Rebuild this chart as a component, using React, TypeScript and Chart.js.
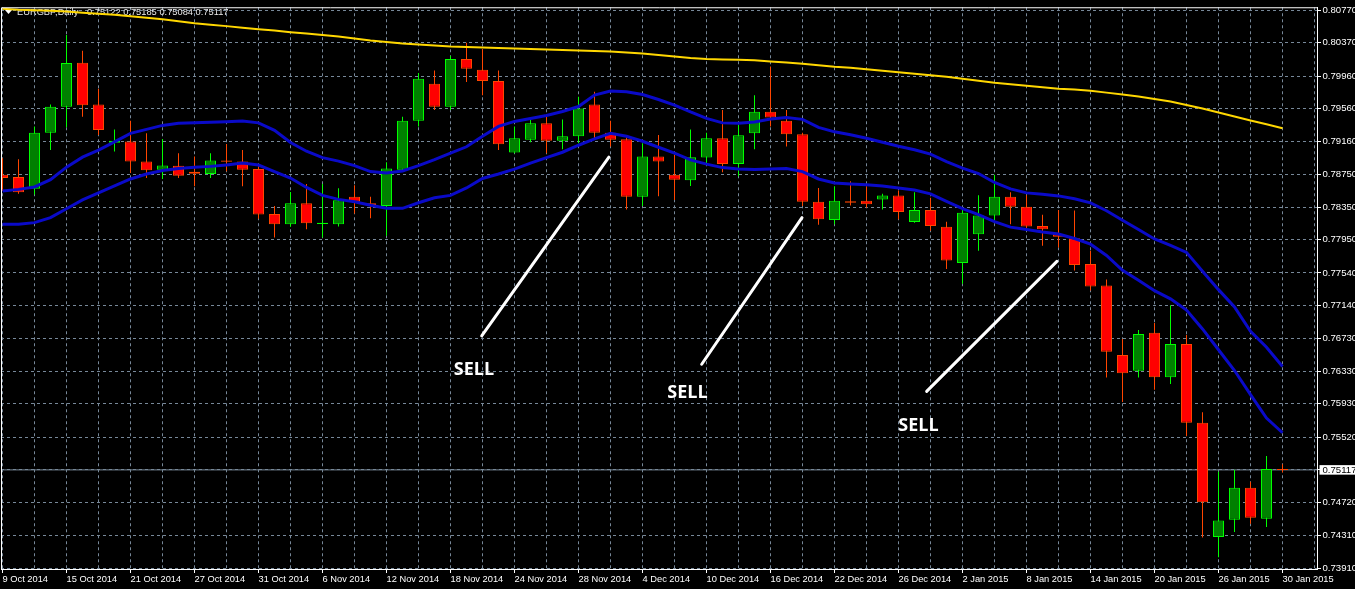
import React, { useEffect, useRef } from 'react';
import { Chart, registerables } from 'chart.js';

Chart.register(...registerables);

// ---- header text ----
const symbolName = 'EURGBP,Daily';
const lastQuote = ['0.75122', '0.75185', '0.75084', '0.75117'];

// ---- date axis (one label every 4 daily bars) ----
const dateTickBars = [0, 4, 8, 12, 16, 20, 24, 28, 32, 36, 40, 44, 48, 52, 56, 60, 64, 68, 72, 76, 80];
const dateLabels = [
  '9 Oct 2014', '15 Oct 2014', '21 Oct 2014', '27 Oct 2014', '31 Oct 2014', '6 Nov 2014',
  '12 Nov 2014', '18 Nov 2014', '24 Nov 2014', '28 Nov 2014', '4 Dec 2014', '10 Dec 2014',
  '16 Dec 2014', '22 Dec 2014', '26 Dec 2014', '2 Jan 2015', '8 Jan 2015', '14 Jan 2015',
  '20 Jan 2015', '26 Jan 2015', '30 Jan 2015',
];

// ---- price axis ----
const priceTicks = [
  0.8077, 0.8037, 0.7996, 0.7956, 0.7916, 0.7875, 0.7835, 0.7795, 0.7754,
  0.7714, 0.7673, 0.7633, 0.7593, 0.7552, 0.75117, 0.7472, 0.7431, 0.7391,
];
const bidPrice = 0.75117;

// ---- candles ----
const opens = [
  0.78747, 0.78719, 0.78576, 0.79265, 0.79583, 0.80124, 0.79611, 0.79140, 0.79155, 0.78911,
  0.78808, 0.78857, 0.78784, 0.78756, 0.78923, 0.78911, 0.78817, 0.78264, 0.78137, 0.78398,
  0.78140, 0.78137, 0.78475, 0.78398, 0.78362, 0.78808, 0.79412, 0.79867, 0.79583, 0.80172,
  0.80038, 0.79900, 0.79021, 0.79177, 0.79379, 0.79165, 0.79219, 0.79611, 0.79265, 0.79183,
  0.78475, 0.78972, 0.78747, 0.78679, 0.78960, 0.79195, 0.78878, 0.79256, 0.79522, 0.79412,
  0.79244, 0.78414, 0.78191, 0.78421, 0.78426, 0.78444, 0.78491, 0.78167, 0.78313, 0.78106,
  0.77661, 0.78015, 0.78247, 0.78475, 0.78353, 0.78118, 0.78015, 0.77967, 0.77649, 0.77385,
  0.76531, 0.76336, 0.76803, 0.76257, 0.76665, 0.75696, 0.74293, 0.74505, 0.74896, 0.74517,
  0.75122,
];
const highs = [
  0.78951, 0.78939, 0.79339, 0.79611, 0.80465, 0.80273, 0.79806, 0.79305, 0.79412, 0.79256,
  0.79186, 0.79012, 0.78972, 0.79012, 0.79125, 0.79052, 0.78850, 0.78362, 0.78536, 0.78634,
  0.78634, 0.78581, 0.78618, 0.78475, 0.78902, 0.79461, 0.79998, 0.80029, 0.80212, 0.80371,
  0.80294, 0.80029, 0.79339, 0.79428, 0.79492, 0.79428, 0.79705, 0.79767, 0.79412, 0.79208,
  0.79134, 0.79235, 0.78991, 0.79305, 0.79265, 0.79542, 0.79358, 0.79724, 0.80078, 0.79542,
  0.79265, 0.78585, 0.78606, 0.78667, 0.78606, 0.78512, 0.78552, 0.78532, 0.78463, 0.78170,
  0.78320, 0.78496, 0.78747, 0.78532, 0.78496, 0.78256, 0.78313, 0.78308, 0.77813, 0.77458,
  0.76726, 0.76836, 0.76925, 0.77141, 0.76775, 0.75827, 0.75094, 0.75118, 0.74972, 0.75289,
  0.75185,
];
const lows = [
  0.78548, 0.78512, 0.78503, 0.79052, 0.79330, 0.79461, 0.79235, 0.79033, 0.78768, 0.78707,
  0.78695, 0.78707, 0.78606, 0.78707, 0.78789, 0.78606, 0.78207, 0.77975, 0.78106, 0.78076,
  0.77975, 0.78109, 0.78271, 0.78213, 0.77996, 0.78801, 0.79339, 0.79542, 0.79542, 0.79888,
  0.79724, 0.79052, 0.79012, 0.79146, 0.79012, 0.79061, 0.79134, 0.79183, 0.79093, 0.78320,
  0.78362, 0.78484, 0.78435, 0.78610, 0.78869, 0.78777, 0.78728, 0.79061, 0.79339, 0.79093,
  0.78362, 0.78133, 0.78137, 0.78369, 0.78341, 0.78320, 0.78199, 0.78158, 0.78057, 0.77589,
  0.77405, 0.77813, 0.78191, 0.78137, 0.78076, 0.77873, 0.77853, 0.77569, 0.77324, 0.76254,
  0.75953, 0.76254, 0.76104, 0.76172, 0.75534, 0.74285, 0.74041, 0.74353, 0.74456, 0.74415,
  0.75084,
];
const closes = [
  0.78707, 0.78532, 0.79265, 0.79583, 0.80120, 0.79602, 0.79297, 0.79165, 0.78911, 0.78801,
  0.78862, 0.78735, 0.78759, 0.78923, 0.78906, 0.78808, 0.78259, 0.78137, 0.78398, 0.78149,
  0.78158, 0.78434, 0.78414, 0.78374, 0.78825, 0.79412, 0.79928, 0.79583, 0.80172, 0.80050,
  0.79900, 0.79122, 0.79195, 0.79379, 0.79165, 0.79219, 0.79562, 0.79265, 0.79177, 0.78475,
  0.78972, 0.78911, 0.78686, 0.78963, 0.79195, 0.78878, 0.79232, 0.79522, 0.79452, 0.79244,
  0.78414, 0.78199, 0.78426, 0.78402, 0.78383, 0.78491, 0.78289, 0.78313, 0.78118, 0.77691,
  0.78280, 0.78247, 0.78475, 0.78353, 0.78109, 0.78076, 0.77984, 0.77637, 0.77373, 0.76571,
  0.76307, 0.76787, 0.76257, 0.76665, 0.75696, 0.74719, 0.74493, 0.74896, 0.74529, 0.75127,
  0.75117,
];

// ---- indicators ----
const maLine = [
  0.80788, 0.80776, 0.80770, 0.80764, 0.80754, 0.80739, 0.80727, 0.80715, 0.80697, 0.80678,
  0.80660, 0.80636, 0.80611, 0.80593, 0.80575, 0.80556, 0.80538, 0.80520, 0.80501, 0.80483,
  0.80465, 0.80446, 0.80422, 0.80398, 0.80379, 0.80361, 0.80349, 0.80337, 0.80324, 0.80318,
  0.80312, 0.80306, 0.80300, 0.80294, 0.80288, 0.80282, 0.80276, 0.80270, 0.80263, 0.80251,
  0.80239, 0.80221, 0.80202, 0.80184, 0.80172, 0.80166, 0.80160, 0.80154, 0.80141, 0.80129,
  0.80111, 0.80093, 0.80074, 0.80062, 0.80044, 0.80026, 0.80007, 0.79989, 0.79971, 0.79952,
  0.79928, 0.79904, 0.79879, 0.79861, 0.79842, 0.79824, 0.79806, 0.79794, 0.79781, 0.79757,
  0.79733, 0.79708, 0.79678, 0.79647, 0.79604, 0.79562, 0.79513, 0.79464, 0.79415, 0.79367,
  0.79318,
];
const upperBand = [
  0.78548, 0.78567, 0.78597, 0.78686, 0.78841, 0.78963, 0.79049, 0.79152, 0.79256, 0.79305,
  0.79354, 0.79379, 0.79388, 0.79393, 0.79399, 0.79409, 0.79385, 0.79293, 0.79143, 0.79036,
  0.78957, 0.78915, 0.78860, 0.78786, 0.78768, 0.78793, 0.78860, 0.78933, 0.79012, 0.79091,
  0.79220, 0.79342, 0.79403, 0.79440, 0.79476, 0.79525, 0.79586, 0.79727, 0.79778, 0.79769,
  0.79733, 0.79672, 0.79604, 0.79519, 0.79440, 0.79385, 0.79379, 0.79397, 0.79433, 0.79452,
  0.79428, 0.79330, 0.79275, 0.79238, 0.79195, 0.79146, 0.79098, 0.79055, 0.79000, 0.78908,
  0.78829, 0.78762, 0.78652, 0.78573, 0.78524, 0.78506, 0.78487, 0.78451, 0.78402, 0.78304,
  0.78188, 0.78073, 0.77957, 0.77877, 0.77792, 0.77560, 0.77334, 0.77120, 0.76821, 0.76626,
  0.76388,
];
const lowerBand = [
  0.78137, 0.78137, 0.78158, 0.78219, 0.78329, 0.78438, 0.78524, 0.78610, 0.78695, 0.78756,
  0.78799, 0.78823, 0.78838, 0.78850, 0.78868, 0.78890, 0.78866, 0.78786, 0.78707, 0.78591,
  0.78493, 0.78444, 0.78414, 0.78371, 0.78334, 0.78334, 0.78402, 0.78463, 0.78493, 0.78585,
  0.78701, 0.78756, 0.78817, 0.78890, 0.78957, 0.79024, 0.79110, 0.79189, 0.79256, 0.79220,
  0.79159, 0.79085, 0.79012, 0.78930, 0.78878, 0.78835, 0.78817, 0.78811, 0.78817, 0.78823,
  0.78786, 0.78695, 0.78646, 0.78634, 0.78625, 0.78610, 0.78585, 0.78560, 0.78512, 0.78420,
  0.78329, 0.78256, 0.78170, 0.78103, 0.78073, 0.78042, 0.78018, 0.77963, 0.77893, 0.77755,
  0.77572, 0.77450, 0.77321, 0.77221, 0.77083, 0.76851, 0.76595, 0.76339, 0.76043, 0.75754,
  0.75574,
];

// ---- hand-drawn annotations (bar index, price) ----
const sellLineStarts = [
  { bar: 29.95, price: 0.76766 },
  { bar: 43.7, price: 0.76416 },
  { bar: 57.76, price: 0.76083 },
];
const sellLineEnds = [
  { bar: 37.9, price: 0.78963 },
  { bar: 49.97, price: 0.78219 },
  { bar: 65.9, price: 0.77682 },
];
const sellLabels = [
  { bar: 29.47, price: 0.76345, text: 'SELL' },
  { bar: 42.81, price: 0.76065, text: 'SELL' },
  { bar: 57.25, price: 0.75656, text: 'SELL' },
];

const GRID = '#778899';
const FONT_FAMILY = '"Liberation Sans", Arial, sans-serif';
const AXIS_FONT = { family: FONT_FAMILY, size: 9.3 };

export default function App() {
  const ref = useRef<HTMLCanvasElement>(null);

  useEffect(() => {
    document.body.style.margin = '0';
    document.body.style.background = '#000';
    const canvas = ref.current;
    if (!canvas) return;

    const barIdx = opens.map((_, i) => i);
    const isBull = (i: number) => closes[i] >= opens[i];

    const decor = {
      id: 'decor',
      beforeDraw(chart: any) {
        const { ctx, width, height } = chart;
        ctx.save();
        ctx.fillStyle = '#000';
        ctx.fillRect(0, 0, width, height);
        ctx.restore();
      },
      beforeDatasetsDraw(chart: any) {
        const { ctx } = chart;
        ctx.save();
        ctx.fillStyle = '#ffffff';
        ctx.beginPath();
        ctx.moveTo(5, 10);
        ctx.lineTo(12, 10);
        ctx.lineTo(8.5, 14);
        ctx.closePath();
        ctx.fill();
        ctx.font = '9.3px ' + FONT_FAMILY;
        ctx.textBaseline = 'middle';
        ctx.fillStyle = '#e8e8e8';
        ctx.fillText(symbolName, 17, 12);
        ctx.fillText(lastQuote.join(' '), 87, 12);
        ctx.restore();
      },
      afterDatasetsDraw(chart: any) {
        const { ctx, chartArea, scales } = chart;
        ctx.save();
        ctx.fillStyle = '#ffffff';
        ctx.font = 'bold 18px "Open Sans", "Liberation Sans", sans-serif';
        ctx.textAlign = 'center';
        ctx.textBaseline = 'middle';
        sellLabels.forEach((l) => {
          ctx.fillText(l.text, scales.x.getPixelForValue(l.bar), scales.y.getPixelForValue(l.price));
        });
        ctx.strokeStyle = '#ffffff';
        ctx.lineWidth = 1;
        ctx.beginPath();
        ctx.moveTo(chartArea.left + 0.5, chartArea.bottom);
        ctx.lineTo(chartArea.left + 0.5, chartArea.top + 0.5);
        ctx.lineTo(chartArea.right, chartArea.top + 0.5);
        ctx.stroke();
        ctx.restore();
      },
    };

    const lineDs = (data: number[], color: string, width: number, order: number) => ({
      type: 'line' as const,
      data: barIdx.map((i) => ({ x: i, y: data[i] })),
      borderColor: color,
      borderWidth: width,
      pointRadius: 0,
      tension: 0,
      fill: false,
      order,
    });

    const sellDatasets = sellLineStarts.map((s, k) => ({
      type: 'line' as const,
      data: [
        { x: s.bar, y: s.price },
        { x: sellLineEnds[k].bar, y: sellLineEnds[k].price },
      ],
      borderColor: '#ffffff',
      borderWidth: 3,
      borderCapStyle: 'round' as const,
      pointRadius: 0,
      tension: 0,
      fill: false,
      order: 0,
    }));

    const chart = new Chart(canvas, {
      type: 'bar',
      data: {
        datasets: [
          {
            type: 'line',
            data: [
              { x: -1, y: bidPrice },
              { x: 83, y: bidPrice },
            ],
            borderColor: GRID,
            borderWidth: 1,
            pointRadius: 0,
            order: 5,
          },
          {
            type: 'bar',
            data: barIdx.map((i) => ({ x: i, y: [lows[i], highs[i]] })),
            backgroundColor: barIdx.map((i) => (isBull(i) ? '#00ff00' : '#ff4500')),
            borderWidth: 0,
            grouped: false,
            maxBarThickness: 1,
            inflateAmount: 0,
            order: 3,
          },
          {
            type: 'bar',
            data: barIdx.map((i) => ({ x: i, y: [opens[i], closes[i]] })),
            backgroundColor: barIdx.map((i) => (isBull(i) ? '#008000' : '#ff0000')),
            borderColor: barIdx.map((i) => (isBull(i) ? '#00ff00' : '#ff4500')),
            borderWidth: 1,
            borderSkipped: false,
            grouped: false,
            maxBarThickness: 11,
            minBarLength: 1,
            inflateAmount: 0,
            order: 2,
          },
          lineDs(maLine, '#ffd700', 2, 1),
          lineDs(upperBand, '#0a0ac8', 3, 1),
          lineDs(lowerBand, '#0a0ac8', 3, 1),
          ...sellDatasets,
        ] as any,
      },
      options: {
        animation: false,
        responsive: false,
        events: [],
        layout: { padding: { left: 1, top: 3, right: 0, bottom: 0 } },
        plugins: { legend: { display: false }, tooltip: { enabled: false } },
        scales: {
          x: {
            type: 'linear',
            min: -0.09375,
            max: 82.15625,
            offset: false,
            afterFit: (s: any) => {
              s.height = 20;
            },
            afterBuildTicks: (s: any) => {
              const t: { value: number }[] = [];
              for (let b = 0; b <= 82; b += 2) t.push({ value: b });
              s.ticks = t;
            },
            grid: {
              offset: false,
              color: GRID,
              lineWidth: 1,
              tickLength: 4,
              tickColor: (c: any) =>
                c.tick && dateTickBars.includes(c.tick.value) ? '#ffffff' : 'rgba(0,0,0,0)',
            },
            border: { display: true, color: '#ffffff', width: 1, dash: [3, 3] },
            ticks: {
              autoSkip: false,
              maxRotation: 0,
              minRotation: 0,
              align: 'start',
              padding: 1,
              color: '#ffffff',
              font: AXIS_FONT,
              callback: (v: any) => {
                const k = dateTickBars.indexOf(Number(v));
                return k >= 0 ? dateLabels[k] : '';
              },
            },
          },
          y: {
            type: 'linear',
            position: 'right',
            min: 0.73898,
            max: 0.80807,
            beginAtZero: false,
            afterFit: (s: any) => {
              s.width = 38;
            },
            afterBuildTicks: (s: any) => {
              s.ticks = priceTicks.map((v) => ({ value: v }));
            },
            grid: {
              color: GRID,
              lineWidth: 1,
              tickLength: 4,
              tickColor: '#ffffff',
            },
            border: { display: true, color: '#ffffff', width: 1, dash: [3, 3] },
            ticks: {
              autoSkip: false,
              padding: 1.5,
              font: { family: FONT_FAMILY, size: 9.6 },
              color: (c: any) => (c.tick && c.tick.value === bidPrice ? '#000000' : '#ffffff'),
              showLabelBackdrop: (c: any) => !!(c.tick && c.tick.value === bidPrice),
              backdropColor: '#ffffff',
              backdropPadding: { top: -1, bottom: -1, left: 3, right: 6 },
              callback: (v: any) => Number(v).toFixed(5),
            },
          },
        },
      } as any,
      plugins: [decor],
    });

    return () => chart.destroy();
  }, []);

  return (
    <div style={{ width: 1355, height: 589, background: '#000' }}>
      <canvas ref={ref} width={1355} height={589} style={{ display: 'block' }} />
    </div>
  );
}
